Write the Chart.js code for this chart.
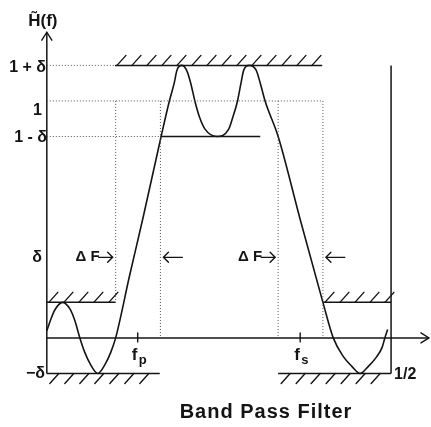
<!DOCTYPE html>
<html>
<head>
<meta charset="utf-8">
<script src="https://cdn.jsdelivr.net/npm/chart.js@4.4.1/dist/chart.umd.min.js"></script>
<style>
  html, body { margin: 0; padding: 0; background: #fff; }
  #wrap { width: 431px; height: 427px; position: relative; }
</style>
</head>
<body>
<div id="wrap"><canvas id="filterChart"></canvas></div>
<script>
// Respons filter band pass
const freq = [0, 0.006, 0.012, 0.023, 0.034, 0.041, 0.048, 0.055, 0.063, 0.074, 0.085, 0.093, 0.100,
  0.120, 0.140, 0.166, 0.178, 0.185, 0.189, 0.196, 0.203, 0.209, 0.215, 0.222, 0.230, 0.247,
  0.264, 0.270, 0.277, 0.282, 0.286, 0.294, 0.304, 0.310, 0.317, 0.336,
  0.368, 0.401, 0.416, 0.431, 0.443, 0.455, 0.467, 0.479, 0.487, 0.491, 0.495];
const response = [0.03, 0.08, 0.12, 0.15, 0.12, 0.07, 0, -0.06, -0.11, -0.15, -0.11, -0.06, 0,
  0.26, 0.51, 0.85, 1.0, 1.075, 1.13, 1.15, 1.13, 1.075, 1.0, 0.93, 0.88, 0.85,
  0.88, 0.93, 1.0, 1.075, 1.13, 1.15, 1.13, 1.075, 1.0, 0.85,
  0.50, 0.15, 0, -0.08, -0.12, -0.15, -0.12, -0.08, -0.04, 0, 0.035];

// Batas toleransi yang diarsir
const boundFrom = [0, 0.099, 0, 0.401, 0.336];
const boundTo = [0.100, 0.400, 0.164, 0.5, 0.5];
const boundLevel = [0.15, 1.15, -0.15, 0.15, -0.15];
const boundSide = ["up", "up", "down", "up", "down"];

// Garis bantu titik-titik [f, H]
const guideFrom = [[0, 1.15], [0, 1], [0, 0.85], [0.100, 1], [0.165, 1], [0.336, 1], [0.401, 1]];
const guideTo = [[0.099, 1.15], [0.401, 1], [0.165, 0.85], [0.100, 0.15], [0.165, 0], [0.336, 0], [0.401, 0]];

// Garis padat: sumbu Y, sumbu f, garis 1-δ, garis f = 1/2
const solidFrom = [[0, -0.15], [0, 0], [0.165, 0.85], [0.5, -0.15]];
const solidTo = [[0, 1.29], [0.555, 0], [0.31, 0.85], [0.5, 1.15]];

// Label
const yTickValues = [1.15, 1, 0.85, 0.15, -0.15];
const yTickLabels = ["1 + δ", "1", "1 - δ", "δ", "−δ"];
const edgeFreqs = [0.132, 0.368];
const edgeSubs = ["p", "s"];
const transitionBands = [[0.100, 0.165], [0.336, 0.401]];
const nyquistLabel = "1/2";
const yAxisTitle = "H\u0303(f)";
const chartTitle = "Band Pass Filter";

const INK = "#141414";
const FONT = '"Liberation Sans", Arial, Helvetica, sans-serif';

function segmentSets(from, to, style) {
  return from.map((a, i) => ({
    data: [{ x: a[0], y: a[1] }, { x: to[i][0], y: to[i][1] }],
    pointRadius: 0,
    tension: 0,
    fill: false,
    ...style,
  }));
}

// Plugin untuk arsiran, panah, dan teks
const diagramPlugin = {
  id: "diagram",
  afterDatasetsDraw(chart) {
    const { ctx, scales: { x, y } } = chart;
    ctx.save();
    ctx.strokeStyle = INK;
    ctx.fillStyle = INK;
    ctx.lineWidth = 1.4;
    ctx.lineCap = "round";

    // arsiran
    boundLevel.forEach((lv, i) => {
      const x1 = x.getPixelForValue(boundFrom[i]);
      const x2 = x.getPixelForValue(boundTo[i]);
      const py = y.getPixelForValue(lv);
      ctx.beginPath();
      if (boundSide[i] === "up") {
        for (let px = x1 + 2; px <= x2 - 4; px += 15) {
          ctx.moveTo(px, py);
          ctx.lineTo(px + 9, py - 10);
        }
      } else {
        for (let px = x1 + 12; px <= x2 + 1; px += 15) {
          ctx.moveTo(px, py);
          ctx.lineTo(px - 9, py + 10);
        }
      }
      ctx.stroke();
    });

    // kepala panah sumbu
    const ax = x.getPixelForValue(0), ay = y.getPixelForValue(0);
    const topY = y.getPixelForValue(solidTo[0][1]);
    const rightX = x.getPixelForValue(solidTo[1][0]);
    ctx.beginPath();
    ctx.moveTo(ax - 5, topY + 8); ctx.lineTo(ax, topY); ctx.lineTo(ax + 5, topY + 8);
    ctx.moveTo(rightX - 8, ay - 5); ctx.lineTo(rightX, ay); ctx.lineTo(rightX - 8, ay + 5);
    ctx.stroke();

    // label sumbu Y
    ctx.textBaseline = "middle";
    ctx.textAlign = "right";
    ctx.font = "bold 16px " + FONT;
    const nudge = [2, 10, 1, -45, 0];
    const rightEdge = [46, 42, 47, 42, 45];
    yTickValues.forEach((v, i) => {
      ctx.fillText(yTickLabels[i], rightEdge[i], y.getPixelForValue(v) + nudge[i]);
    });

    ctx.textAlign = "center";
    ctx.font = "bold 17px " + FONT;
    ctx.fillText(yAxisTitle, ax - 4, topY - 11);

    // tanda fp dan fs
    edgeFreqs.forEach((f, i) => {
      const px = x.getPixelForValue(f);
      ctx.beginPath();
      ctx.moveTo(px, ay - 5);
      ctx.lineTo(px, ay + 4);
      ctx.stroke();
      ctx.textAlign = "left";
      ctx.textBaseline = "alphabetic";
      ctx.font = "bold 17px " + FONT;
      ctx.fillText("f", px - 6, ay + 22);
      ctx.font = "bold 13px " + FONT;
      ctx.fillText(edgeSubs[i], px + 1, ay + 26);
    });

    // label 1/2
    ctx.font = "bold 16px " + FONT;
    ctx.textBaseline = "middle";
    ctx.fillText(nyquistLabel, x.getPixelForValue(0.5) + 3, y.getPixelForValue(-0.15) + 1);

    // ΔF dan panah pita transisi
    const rowY = y.getPixelForValue(0.34);
    transitionBands.forEach(([f1, f2]) => {
      const e1 = x.getPixelForValue(f1), e2 = x.getPixelForValue(f2);
      ctx.textAlign = "right";
      ctx.font = "bold 15px " + FONT;
      ctx.fillText("Δ F", e1 - 16, rowY);
      ctx.beginPath();
      ctx.moveTo(e1 - 17, rowY); ctx.lineTo(e1 - 3, rowY);
      ctx.moveTo(e1 - 8, rowY - 5); ctx.lineTo(e1 - 3, rowY); ctx.lineTo(e1 - 8, rowY + 5);
      ctx.moveTo(e2 + 3, rowY); ctx.lineTo(e2 + 22, rowY);
      ctx.moveTo(e2 + 8, rowY - 5); ctx.lineTo(e2 + 3, rowY); ctx.lineTo(e2 + 8, rowY + 5);
      ctx.stroke();
    });

    // judul
    ctx.textAlign = "center";
    ctx.font = "bold 20px " + FONT;
    ctx.letterSpacing = "1px";
    ctx.fillText(chartTitle, 266, 412);
    ctx.restore();
  },
};

window.onload = () => {
  const ctx = document.getElementById("filterChart").getContext("2d");
  const datasets = [
    ...segmentSets(guideFrom, guideTo, { borderColor: "#555", borderWidth: 1, borderDash: [1, 2] }),
    ...segmentSets(solidFrom, solidTo, { borderColor: INK, borderWidth: 1.5 }),
    ...segmentSets(
      boundFrom.map((f, i) => [f, boundLevel[i]]),
      boundTo.map((f, i) => [f, boundLevel[i]]),
      { borderColor: INK, borderWidth: 1.5 }
    ),
    {
      data: freq.map((f, i) => ({ x: f, y: response[i] })),
      borderColor: INK,
      borderWidth: 1.6,
      pointRadius: 0,
      fill: false,
      tension: 0.4,
      cubicInterpolationMode: "monotone",
    },
  ];

  new Chart(ctx, {
    type: "line",
    data: { datasets },
    options: {
      responsive: true,
      maintainAspectRatio: false,
      animation: false,
      layout: { padding: 0, autoPadding: false },
      plugins: { legend: { display: false }, tooltip: { enabled: false } },
      scales: {
        x: { type: "linear", min: -0.068, max: 0.558, display: false },
        y: { type: "linear", min: -0.376, max: 1.426, display: false },
      },
    },
    plugins: [diagramPlugin],
  });
};
</script>
</body>
</html>
